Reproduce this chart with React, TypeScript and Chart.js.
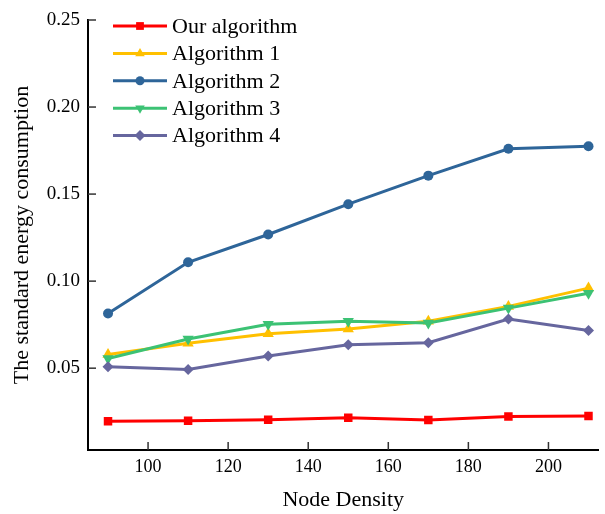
import React, { useEffect, useRef } from 'react';
import { Chart, registerables } from 'chart.js';

Chart.register(...registerables);

const nodeDensity = [90, 110, 130, 150, 170, 190, 210];
const ourAlgorithm = [0.0195, 0.0198, 0.0204, 0.0215, 0.0203, 0.0223, 0.0225];
const algorithm1 = [0.0578, 0.0643, 0.0698, 0.0725, 0.0770, 0.0855, 0.0960];
const algorithm2 = [0.0814, 0.1108, 0.1268, 0.1442, 0.1606, 0.1760, 0.1775];
const algorithm3 = [0.0556, 0.0668, 0.0752, 0.0769, 0.0760, 0.0845, 0.0930];
const algorithm4 = [0.0508, 0.0492, 0.0570, 0.0635, 0.0646, 0.0782, 0.0716];

const seriesNames = ['Our algorithm', 'Algorithm 1', 'Algorithm 2', 'Algorithm 3', 'Algorithm 4'];
const seriesValues = [ourAlgorithm, algorithm1, algorithm2, algorithm3, algorithm4];
const seriesColors = ['#FF0000', '#FFC000', '#2E6599', '#3CC274', '#66669E'];
const seriesMarkers = ['rect', 'triangle', 'circle', 'triangle', 'rectRot'];
const markerRotations = [0, 0, 0, 180, 0];
const markerRadii = [6, 6.5, 5, 6.5, 5.5];

const xTicks = [100, 120, 140, 160, 180, 200];
const yTicks = [0.05, 0.1, 0.15, 0.2, 0.25];

const FONT = "'Liberation Serif', 'Times New Roman', serif";

function drawMarker(ctx: CanvasRenderingContext2D, style: string, rotation: number, x: number, y: number, r: number) {
  ctx.beginPath();
  if (style === 'rect') {
    const s = r * Math.SQRT1_2;
    ctx.rect(x - s, y - s, 2 * s, 2 * s);
  } else if (style === 'circle') {
    ctx.arc(x, y, r, 0, Math.PI * 2);
  } else if (style === 'rectRot') {
    ctx.moveTo(x, y - r);
    ctx.lineTo(x + r, y);
    ctx.lineTo(x, y + r);
    ctx.lineTo(x - r, y);
    ctx.closePath();
  } else if (style === 'triangle') {
    let rad = (rotation * Math.PI) / 180;
    ctx.moveTo(x + Math.sin(rad) * r, y - Math.cos(rad) * r);
    for (let k = 0; k < 2; k++) {
      rad += (2 * Math.PI) / 3;
      ctx.lineTo(x + Math.sin(rad) * r, y - Math.cos(rad) * r);
    }
    ctx.closePath();
  }
  ctx.fill();
}

const overlayPlugin = {
  id: 'overlay',
  afterDatasetsDraw(chart: any) {
    const { ctx, chartArea, scales } = chart;
    const x = scales.x;
    const y = scales.y;
    ctx.save();
    ctx.strokeStyle = '#333333';
    ctx.lineWidth = 1.5;
    xTicks.forEach((v) => {
      const px = x.getPixelForValue(v);
      ctx.beginPath();
      ctx.moveTo(px, chartArea.bottom);
      ctx.lineTo(px, chartArea.bottom - 8);
      ctx.stroke();
    });
    yTicks.forEach((v) => {
      const py = y.getPixelForValue(v);
      ctx.beginPath();
      ctx.moveTo(chartArea.left, py);
      ctx.lineTo(chartArea.left + 8, py);
      ctx.stroke();
    });

    // legend
    const lx0 = chartArea.left + 25;
    const lx1 = chartArea.left + 79;
    const mx = chartArea.left + 52;
    const tx = chartArea.left + 84;
    ctx.font = `22px ${FONT}`;
    ctx.textBaseline = 'middle';
    ctx.textAlign = 'left';
    seriesNames.forEach((name, i) => {
      const ry = chartArea.top + 6 + i * 27.4;
      ctx.strokeStyle = seriesColors[i];
      ctx.fillStyle = seriesColors[i];
      ctx.lineWidth = 3;
      ctx.beginPath();
      ctx.moveTo(lx0, ry);
      ctx.lineTo(lx1, ry);
      ctx.stroke();
      drawMarker(ctx, seriesMarkers[i], markerRotations[i], mx, ry, seriesMarkers[i] === 'circle' ? 4.5 : 5.5);
      ctx.fillStyle = '#000000';
      ctx.fillText(name, tx, ry + 1);
    });
    ctx.restore();
  },
};

export default function App() {
  const ref = useRef<HTMLCanvasElement>(null);
  useEffect(() => {
    const canvas = ref.current;
    if (!canvas) return;
    Chart.defaults.font.family = FONT;
    const chart = new Chart(canvas, {
      type: 'line',
      data: {
        datasets: seriesValues.map((vals, i) => ({
          label: seriesNames[i],
          data: nodeDensity.map((xv, j) => ({ x: xv, y: vals[j] })),
          borderColor: seriesColors[i],
          backgroundColor: seriesColors[i],
          borderWidth: 3,
          pointStyle: seriesMarkers[i] as any,
          pointRotation: markerRotations[i],
          pointRadius: markerRadii[i],
          pointBorderWidth: 0,
          pointBackgroundColor: seriesColors[i],
          tension: 0,
          order: 5 - i,
        })),
      },
      options: {
        responsive: false,
        animation: false,
        layout: { padding: { top: 20, right: 1, left: 0, bottom: 0 } },
        plugins: {
          legend: { display: false },
          tooltip: { enabled: false },
        },
        scales: {
          x: {
            type: 'linear',
            min: 85,
            max: 212.5,
            afterBuildTicks: (axis: any) => {
              axis.ticks = xTicks.map((v) => ({ value: v }));
            },
            afterFit: (axis: any) => {
              axis.height = 64;
            },
            grid: { display: false, drawTicks: false, tickLength: 0 },
            border: { display: true, color: '#000000', width: 2 },
            ticks: {
              font: { size: 18, family: FONT },
              color: '#000000',
              padding: 6,
              maxRotation: 0,
              callback: (v: any) => String(v),
            },
            title: {
              display: true,
              text: 'Node Density',
              font: { size: 22, family: FONT },
              color: '#000000',
              padding: { top: 0, bottom: 1 },
            },
          },
          y: {
            type: 'linear',
            min: 0.003,
            max: 0.25,
            afterBuildTicks: (axis: any) => {
              axis.ticks = yTicks.map((v) => ({ value: v }));
            },
            afterFit: (axis: any) => {
              axis.width = 88;
            },
            grid: { display: false, drawTicks: false, tickLength: 0 },
            border: { display: true, color: '#000000', width: 2 },
            ticks: {
              font: { size: 19, family: FONT },
              color: '#000000',
              padding: 8,
              callback: (v: any) => Number(v).toFixed(2),
            },
            title: {
              display: true,
              text: 'The standard energy consumption',
              font: { size: 22, family: FONT },
              color: '#000000',
              padding: { top: 9, bottom: 0 },
            },
          },
        },
      },
      plugins: [overlayPlugin],
    } as any);
    return () => chart.destroy();
  }, []);
  return (
    <div style={{ position: 'fixed', left: 0, top: 0, width: 605, height: 514, background: '#ffffff' }}>
      <canvas ref={ref} width={605} height={514} style={{ display: 'block' }} />
    </div>
  );
}
